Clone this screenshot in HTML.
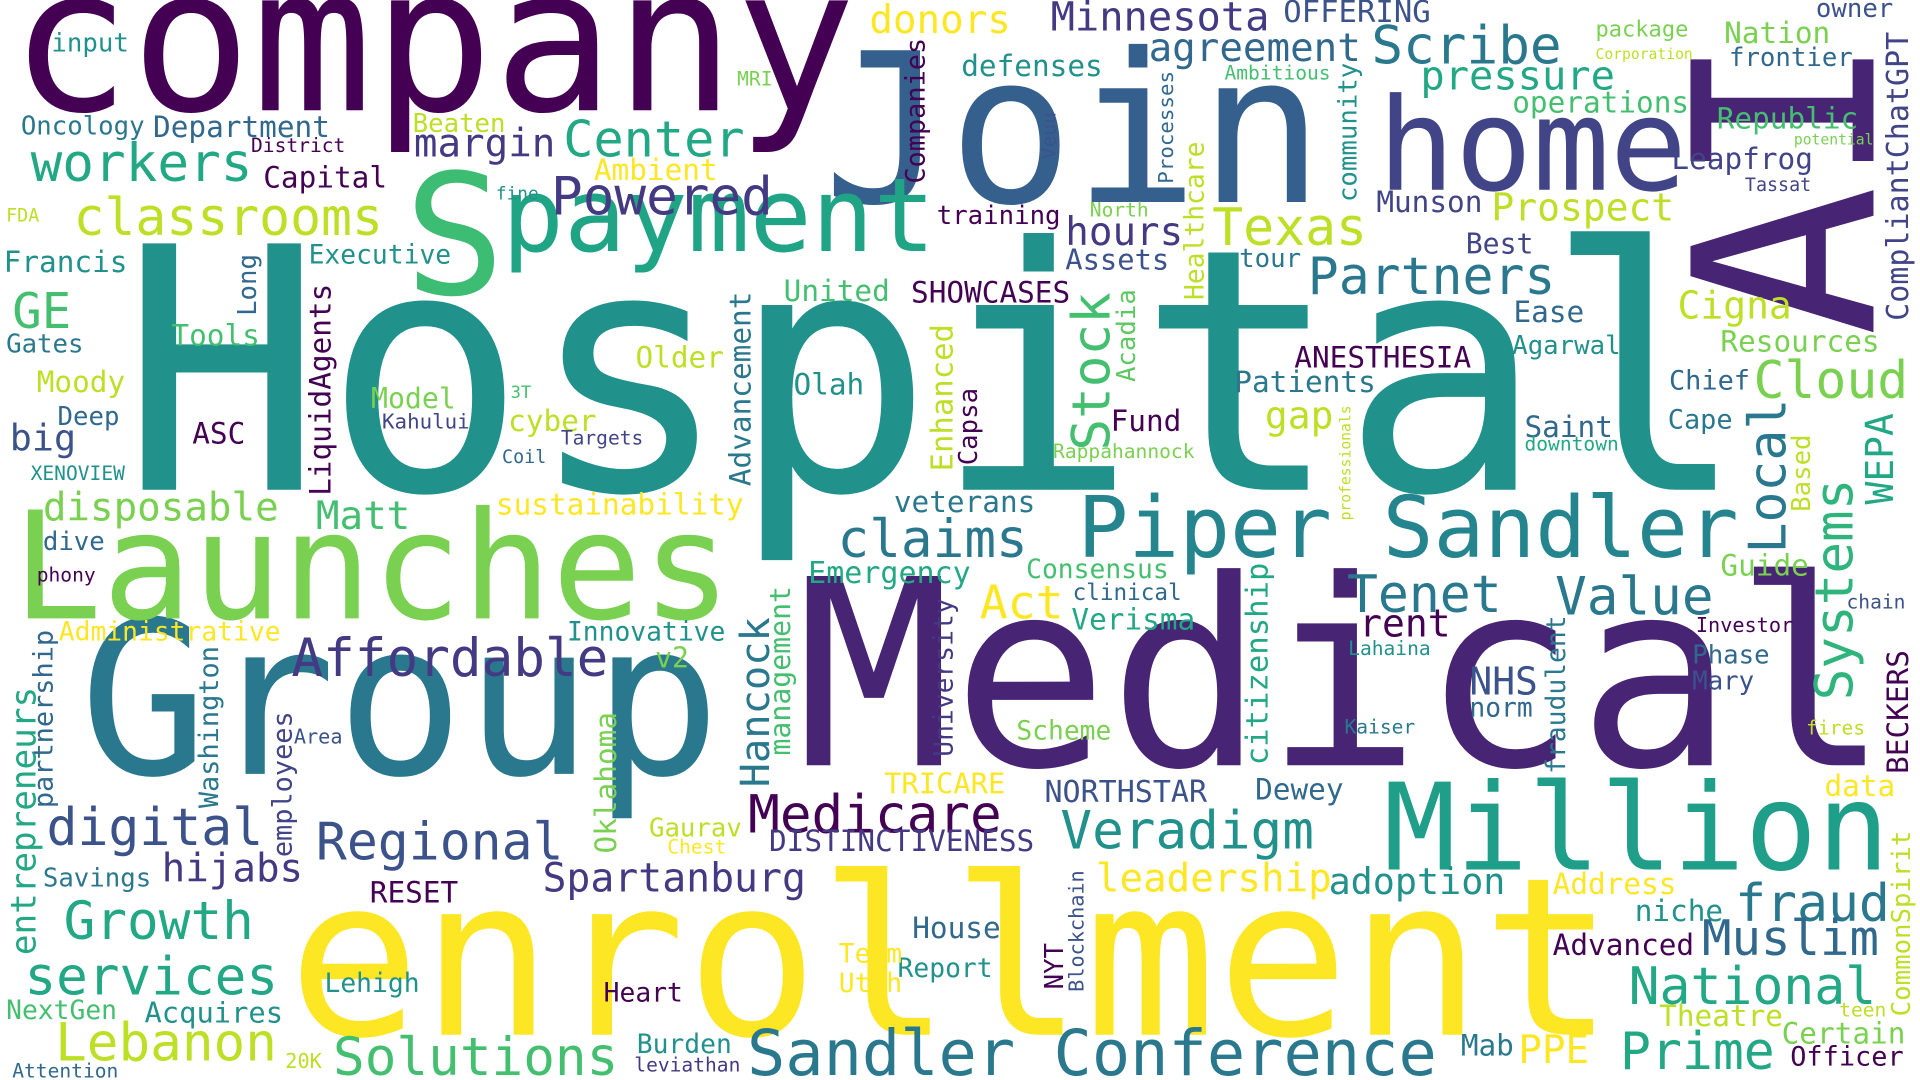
<!DOCTYPE html>
<html><head><meta charset="utf-8"><title>Word Cloud</title>
<style>
html,body{margin:0;padding:0;background:#fff;overflow:hidden}
svg{display:block}
text{font-family:"DejaVu Sans Mono","Liberation Mono",monospace}
</style></head>
<body>
<svg id="cloud" width="1920" height="1080" viewBox="0 0 1568 882" xmlns="http://www.w3.org/2000/svg">
<rect width="1568" height="882" fill="#fff"></rect>
</svg>
<script>
// word, left x, baseline y, font size, color, vertical(1)
const words = [
["company",8,90,164,"#440154",0],["Join",672,165,170,"#355f8d",0],["home",1125,155,105,"#414487",0],
["AI",1530,275,205,"#482475",1],["Hospital",98,400,276,"#21918c",0],["S",330,240,137,"#3dbc74",0],
["payment",410,205,84,"#20a486",0],["Medical",650,625,212,"#482475",0],["Group",65,632,174,"#2a788e",0],
["Launches",10,505,122,"#7ad151",0],["enrollment",235,845,180,"#fde725",0],["Million",1130,710,98,"#1f9e89",0],
["Piper Sandler",880,455,69,"#25858e",0],["Sandler Conference",610,878,52,"#2a788e",0],["Center",460,128,41,"#22a884",0],
["Powered",450,175,43,"#443983",0],["workers",25,148,43,"#22a884",0],["classrooms",60,192,42,"#bddf26",0],
["Scribe",1120,52,43,"#2a788e",0],["pressure",1160,73,33,"#22a884",0],["agreement",938,50,32,"#31688e",0],
["Minnesota",858,25,33,"#443983",0],["OFFERING",1048,18,25,"#3b528b",0],["donors",710,27,32,"#fde725",0],
["defenses",785,62,24,"#21918c",0],["operations",1235,92,24,"#44bf70",0],["package",1303,30,18,"#7ad151",0],
["Nation",1408,35,24,"#7ad151",0],["owner",1483,14,21,"#3b528b",0],["frontier",1412,54,21,"#31688e",0],
["Corporation",1303,48,12,"#bddf26",0],["Ambitious",1000,65,16,"#44bf70",0],["MRI",602,70,16,"#7ad151",0],
["input",42,42,21,"#21918c",0],["Oncology",17,110,21,"#2a788e",0],["Department",125,112,24,"#31688e",0],
["District",205,124,16,"#440154",0],["Beaten",337,108,21,"#bddf26",0],["margin",338,128,32,"#443983",0],
["Ambient",485,147,24,"#fde725",0],["Capital",215,153,24,"#440154",0],["fine",405,163,14.5,"#21918c",0],
["FDA",5,181,15,"#bddf26",0],["Francis",3,222,24,"#21918c",0],["Executive",252,215,21.5,"#21918c",0],
["GE",10,268,40,"#44bf70",0],["Gates",5,288,21,"#2a788e",0],["Tools",140,282,24,"#44bf70",0],
["Long",209,258,21,"#31688e",1],["LiquidAgents",270,405,24,"#440154",1],["Moody",30,320,24,"#bddf26",0],
["Deep",47,347,21,"#31688e",0],["big",8,368,30,"#3b528b",0],["ASC",157,362,24,"#440154",0],
["XENOVIEW",25,392,16,"#21918c",0],["Model",303,333,23,"#7ad151",0],["3T",417,325,14,"#44bf70",0],
["Kahului",312,350,17,"#414487",0],["cyber",415,352,24,"#bddf26",0],["Targets",458,363,16,"#414487",0],
["Coil",410,378,15,"#31688e",0],["Older",519,300,24,"#bddf26",0],["United",640,246,24,"#44bf70",0],
["SHOWCASES",744,247,24,"#440154",0],["training",765,183,21,"#440154",0],["hours",870,200,32,"#443983",0],
["Assets",870,220,23.5,"#3b528b",0],["Olah",648,322,24,"#21918c",0],["Stock",906,368,43,"#44bf70",1],
["Acadia",927,312,21,"#5ec962",1],["Fund",907,352,24,"#440154",0],["Rappahannock",860,374,16,"#7ad151",0],
["Enhanced",778,385,25,"#bddf26",1],["Capsa",798,380,21,"#440154",1],["Advancement",613,397,24,"#2a788e",1],
["Companies",755,150,22,"#440154",1],["Veuu",862,130,16,"#3b528b",1],["Processes",958,150,17,"#31688e",1],
["Healthcare",983,245,21.5,"#bddf26",1],["North",890,177,16,"#7ad151",0],["community",1108,165,21,"#21918c",1],
["Texas",990,200,42,"#bddf26",0],["Partners",1068,240,42,"#2a788e",0],["Munson",1124,173,24,"#414487",0],
["Prospect",1218,180,31,"#bddf26",0],["Best",1197,207,23,"#414487",0],["tour",1012,218,21,"#2a788e",0],
["Leapfrog",1365,138,24,"#414487",0],["Republic",1402,105,24,"#44bf70",0],["potential",1465,118,12,"#7ad151",0],
["Tassat",1425,156,15,"#414487",0],["CompliantChatGPT",1558,262,24.5,"#414487",1],["Cigna",1370,260,31,"#bddf26",0],
["Resources",1405,287,24,"#7ad151",0],["Ease",1236,263,24,"#31688e",0],["Agarwal",1235,289,21,"#21918c",0],
["ANESTHESIA",1057,300,24,"#440154",0],["Patients",1008,320,24,"#2a788e",0],["gap",1033,350,31,"#bddf26",0],
["professionals",1103,425,12,"#bddf26",1],["Cloud",1432,325,42,"#7ad151",0],["Chief",1363,318,22,"#31688e",0],
["Cape",1362,350,22,"#2a788e",0],["Local",1458,452,42,"#2a788e",1],["Based",1478,418,21,"#bddf26",1],
["Saint",1245,357,24,"#31688e",0],["downtown",1245,368,16,"#22a884",0],["WEPA",1546,412,31,"#22a884",1],
["Systems",1513,572,43,"#2fb47c",1],["veterans",730,418,24,"#2a788e",0],["claims",684,455,43,"#2a788e",0],
["Act",800,505,38,"#fde725",0],["Emergency",660,476,24.5,"#22a884",0],["Consensus",838,472,21.5,"#44bf70",0],
["clinical",876,490,18.5,"#31688e",0],["Verisma",875,514,24,"#22a884",0],["sustainability",405,420,24,"#fde725",0],
["disposable",35,425,32,"#7ad151",0],["Matt",258,432,32,"#44bf70",0],["dive",35,449,21,"#31688e",0],
["phony",30,475,16,"#440154",0],["Administrative",48,523,21.5,"#fde725",0],["Affordable",238,552,43,"#443983",0],
["Innovative",463,523,21.5,"#21918c",0],["v2",535,545,23,"#7ad151",0],["management",645,617,23,"#44bf70",1],
["Hancock",628,643,33,"#2a788e",1],["citizenship",1035,625,25,"#22a884",1],["Tenet",1100,500,42,"#2a788e",0],
["rent",1110,520,31,"#440154",0],["Value",1270,502,43,"#2a788e",0],["Lahaina",1101,535,16,"#21918c",0],
["fraudulent",1278,632,21.5,"#2a788e",1],["NHS",1200,567,31,"#3b528b",0],["norm",1200,585,21.5,"#31688e",0],
["Investor",1385,516,16.5,"#440154",0],["chain",1508,497,16,"#3b528b",0],["Guide",1405,470,24,"#7ad151",0],
["Phase",1382,542,21,"#31688e",0],["Mary",1382,563,21,"#3b528b",0],["BECKERS",1558,632,24,"#440154",1],
["Kaiser",1098,599,16,"#2a788e",0],["fires",1475,600,16,"#bddf26",0],["Scheme",830,604,21.5,"#7ad151",0],
["University",778,618,21.5,"#443983",1],["TRICARE",722,648,23.5,"#fde725",0],["NORTHSTAR",853,655,24.5,"#3b528b",0],
["Dewey",1025,653,24,"#31688e",0],["Medicare",611,680,43,"#440154",0],["Veradigm",866,693,43,"#21918c",0],
["DISTINCTIVENESS",628,695,24,"#443983",0],["Regional",258,702,42,"#3b528b",0],["digital",38,690,42,"#3b528b",0],
["Washington",178,660,22,"#2a788e",1],["employees",238,700,22,"#414487",1],["Area",240,607,16.5,"#3b528b",0],
["entrepreneurs",29,780,28,"#22a884",1],["partnership",43,660,22,"#31688e",1],["Oklahoma",503,697,24,"#7ad151",1],
["Gaurav",530,683,21,"#bddf26",0],["Chest",545,697,16,"#fde725",0],["hijabs",132,720,32,"#443983",0],
["Savings",35,724,21,"#2a788e",0],["Spartanburg",443,728,32.5,"#443983",0],["RESET",302,737,24,"#440154",0],
["Growth",52,767,43,"#22a884",0],["services",20,812,43,"#22a884",0],["Lehigh",265,810,21.5,"#21918c",0],
["leadership",895,728,32,"#fde725",0],["adoption",1085,730,30,"#21918c",0],["Address",1268,730,24,"#fde725",0],
["fraud",1417,752,42,"#2a788e",0],["niche",1335,752,24,"#21918c",0],["Advanced",1268,780,24,"#440154",0],
["Muslim",1390,780,40,"#31688e",0],["House",745,766,24,"#31688e",0],["Report",733,798,21.5,"#21918c",0],
["Term",685,786,21.5,"#fde725",0],["Utah",685,810,21.5,"#fde725",0],["NYT",868,808,21,"#440154",1],
["Blockchain",885,810,16.5,"#3b528b",1],["Heart",493,818,21.5,"#440154",0],["National",1330,820,42,"#22a884",0],
["Theatre",1355,838,24,"#bddf26",0],["teen",1502,830,16,"#bddf26",0],["Certain",1455,852,24,"#7ad151",0],
["Officer",1462,870,22,"#440154",0],["CommonSpirit",1560,830,21,"#bddf26",1],["Prime",1323,873,42,"#22a884",0],
["PPE",1240,868,32,"#fde725",0],["Mab",1193,862,24,"#2a788e",0],["NextGen",5,832,21.5,"#44bf70",0],
["Acquires",118,835,23.5,"#21918c",0],["Lebanon",45,866,43,"#bddf26",0],["Solutions",272,878,43,"#44bf70",0],
["Burden",520,860,21.5,"#21918c",0],["leviathan",518,875,16,"#443983",0],["20K",233,872,16.5,"#bddf26",0],
["Attention",10,880,16,"#31688e",0],["data",1490,650,24,"#fde725",0]
];
const svg = document.getElementById('cloud');
const NS = 'http://www.w3.org/2000/svg';
words.forEach(w => {
  const t = document.createElementNS(NS, 'text');
  t.setAttribute('x', w[1]);
  t.setAttribute('y', w[2]);
  t.setAttribute('font-size', w[3]);
  t.setAttribute('fill', w[4]);
  if (w[5]) t.setAttribute('transform', 'rotate(-90 ' + w[1] + ' ' + w[2] + ')');
  t.textContent = w[0];
  
  
  svg.appendChild(t);
});
</script>
</body></html>
